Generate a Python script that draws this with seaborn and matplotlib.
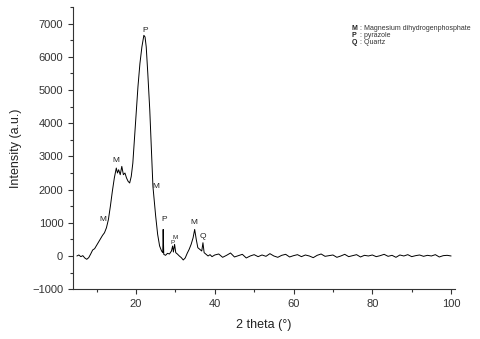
import numpy as np
import pandas as pd
import matplotlib
matplotlib.use('Agg')
import matplotlib.pyplot as plt
import seaborn as sns
from matplotlib.ticker import MultipleLocator

# diffractogram
two_theta = [5, 5.5, 6, 6.5, 7, 7.5, 8, 8.5, 9, 9.5, 10, 10.5, 11, 11.5, 12, 12.5, 13, 13.5,
             14, 14.5, 15, 15.3, 15.6, 16, 16.4, 16.8, 17.2, 17.6, 18, 18.4, 18.8, 19.2, 19.6,
             20, 20.5, 21, 21.5, 22, 22.3, 22.6, 23, 23.5, 24, 24.3, 24.6, 25, 25.5, 26, 26.5,
             26.8, 26.9, 27.05, 27.5, 28, 28.5, 29, 29.3, 29.5, 29.8, 30.1, 30.5, 31, 31.5, 32,
             32.5, 33, 33.5, 34, 34.5, 34.9, 35.3, 35.7, 36.2, 36.7, 37, 37.3, 37.8, 38.3, 38.8,
             39.3, 40, 41, 42, 43, 44, 45, 46, 47, 48, 49, 50, 51, 52, 53, 54, 55, 56, 57, 58,
             59, 60, 61, 62, 63, 64, 65, 66, 67, 68, 69, 70, 71, 72, 73, 74, 75, 76, 77, 78, 79,
             80, 81, 82, 83, 84, 85, 86, 87, 88, 89, 90, 91, 92, 93, 94, 95, 96, 97, 98, 99, 100]
intensity = [0, 30, -20, 10, -60, -100, -50, 60, 180, 220, 320, 420, 520, 620, 700, 850, 1100, 1500,
             1950, 2350, 2650, 2500, 2600, 2450, 2700, 2450, 2500, 2350, 2250, 2200, 2400, 2800, 3500,
             4200, 5100, 5800, 6300, 6650, 6600, 6300, 5500, 4400, 3000, 2100, 1700, 1200, 650, 300, 150,
             100, 800, 50, 20, 80, 60, 150, 300, 120, 350, 100, 60, 0, -50, -120,
             -60, 80, 200, 350, 550, 800, 500, 250, 200, 150, 400, 100, 50, 0, 40,
             -20, 30, 60, -40, 20, 90, -30, 10, 50, -60, 0, 40, -20, 30, -10, 70, 0, -40, 20, 50,
             -30, 10, 40, -20, 30, 0, -50, 20, 60, -10, 10, 30, -40, 0, 50, -20, 10, 40, -30, 20,
             0, 30, -20, 10, 50, -10, 20, -40, 30, 0, 40, -20, 10, 30, -10, 20, 0, 40, -30, 10, 20, 0]

peak_x = [22.3, 15.0, 11.6, 25.1, 27.2, 29.2, 30.0, 34.8, 36.9]
peak_y = [6800, 2880, 1090, 2100, 1090, 420, 550, 1000, 580]
peak_tag = ['P', 'M', 'M', 'M', 'P', 'P', 'M', 'M', 'Q']

legend_tags = ['M', 'P', 'Q']
legend_names = ['Magnesium dihydrogenphosphate', 'pyrazole', 'Quartz']

sns.set_style('ticks')
plt.rcParams['font.family'] = ['Liberation Sans', 'DejaVu Sans']

df = pd.DataFrame({'two_theta': two_theta, 'intensity': intensity})

fig = plt.figure(figsize=(4.8, 3.39), dpi=100)
ax = fig.add_axes([0.152, 0.147, 0.796, 0.832])
sns.lineplot(data=df, x='two_theta', y='intensity', color='black', linewidth=0.7, ax=ax)

for x, y, t in zip(peak_x, peak_y, peak_tag):
    small = x in (29.2, 30.0)
    ax.text(x, y, t, fontsize=4.5 if small else 6, ha='center', va='center', color='#222222')

for i, (t, name) in enumerate(zip(legend_tags, legend_names)):
    ax.text(0.73, 0.925 - i * 0.025, t, transform=ax.transAxes, fontsize=5,
            fontweight='bold', va='center', color='#222222')
    ax.text(0.745, 0.925 - i * 0.025, ' : ' + name, transform=ax.transAxes, fontsize=5,
            va='center', color='#333333')

ax.set_xlim(4, 101)
ax.set_ylim(-1000, 7500)
ax.xaxis.set_major_locator(MultipleLocator(20))
ax.xaxis.set_minor_locator(MultipleLocator(10))
ax.yaxis.set_major_locator(MultipleLocator(1000))
ax.yaxis.set_minor_locator(MultipleLocator(500))
ax.tick_params(which='major', length=3.5, labelsize=8, colors='#333333', width=0.8)
ax.tick_params(which='minor', length=2, colors='#333333', width=0.8)
ax.set_xlabel('2 theta (°)', fontsize=9, color='#222222', labelpad=7)
ax.set_ylabel('Intensity (a.u.)', fontsize=9, color='#222222', labelpad=7)
for s in ['left', 'bottom']:
    ax.spines[s].set_color('#333333')
    ax.spines[s].set_linewidth(0.8)
sns.despine(ax=ax)

plt.savefig('out.png', dpi=100)
